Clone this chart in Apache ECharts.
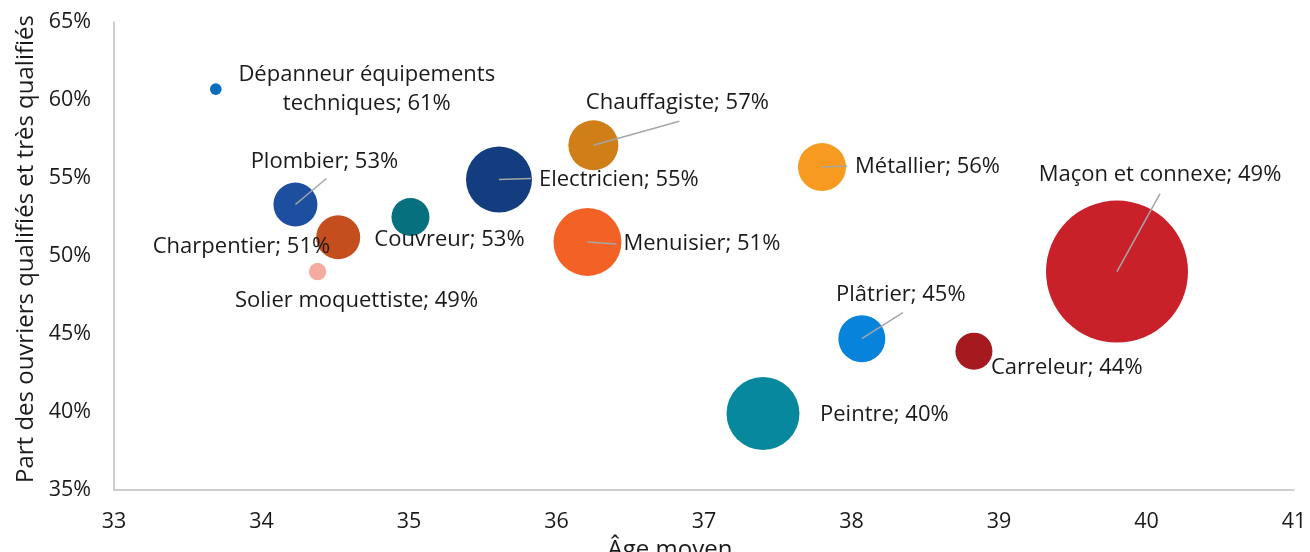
<!DOCTYPE html>
<html>
<head>
<meta charset="utf-8">
<script src="https://cdn.jsdelivr.net/npm/echarts@6/dist/echarts.min.js"></script>
<style>
  html, body { margin: 0; padding: 0; background: #ffffff; }
  #chart { width: 1310px; height: 552px; }
</style>
</head>
<body>
<div id="chart"></div>
<script>
// Métiers du bâtiment : âge moyen, part des ouvriers qualifiés, effectifs (taille des bulles)
const metiers = [
  'Dépanneur équipements\ntechniques', 'Plombier', 'Charpentier', 'Solier moquettiste',
  'Couvreur', 'Electricien', 'Chauffagiste', 'Menuisier', 'Métallier',
  'Plâtrier', 'Carreleur', 'Peintre', 'Maçon et connexe'
];
const ageMoyen = [33.69, 34.23, 34.52, 34.38, 35.01, 35.61, 36.25, 36.21, 37.80, 38.07, 38.83, 37.40, 39.80];
const partQualifies = [60.7, 53.3, 51.2, 49.0, 52.5, 54.9, 57.1, 50.9, 55.7, 44.7, 43.9, 39.9, 49.0];
const effectifs = [1.7, 24.0, 24.0, 3.8, 17.9, 54.0, 31.0, 57.3, 28.6, 27.4, 17.0, 66.0, 250.0];
const couleurs = [
  '#0A6DBE', '#1D4FA0', '#C54E1E', '#F4ACA1', '#07707E', '#143D80', '#CF7E18',
  '#F26227', '#F79A22', '#0783DC', '#A5191F', '#08889C', '#C8212A'
];

// Placement des étiquettes (décalage en pixels depuis le centre de la bulle) et traits de rappel
const etiquettes = [
  { dx: 151, dy: 0, align: 'center' },
  { dx: 29, dy: -43, align: 'center', line: [31, -26] },
  { dx: -8, dy: 9, align: 'right' },
  { dx: 39, dy: 29, align: 'center' },
  { dx: 39, dy: 23, align: 'center' },
  { dx: 40, dy: 0, align: 'left', line: [32, -1] },
  { dx: 84, dy: -43, align: 'center', line: [86, -24] },
  { dx: 36, dy: 2, align: 'left', line: [29, 2] },
  { dx: 33, dy: 0, align: 'left', line: [25, -1] },
  { dx: 39, dy: -44, align: 'center', line: [41, -26] },
  { dx: 17, dy: 17, align: 'left' },
  { dx: 57, dy: 1, align: 'left' },
  { dx: 43, dy: -97, align: 'center', line: [43, -78] }
];

const FONT = '"Open Sans", "Noto Sans", sans-serif';
const TEXT = '#1a1a1a';
const AXIS_GREY = '#BFBFBF';

const points = metiers.map((m, i) => ({
  value: [ageMoyen[i], partQualifies[i], effectifs[i], i],
  itemStyle: { color: couleurs[i] }
}));

const chart = echarts.init(document.getElementById('chart'), null, { renderer: 'canvas' });

chart.setOption({
  animation: false,
  backgroundColor: '#ffffff',
  grid: { left: 114, right: 16, top: 22, bottom: 62, containLabel: false, outerBoundsMode: 'none' },
  xAxis: {
    type: 'value',
    min: 33, max: 41, interval: 1,
    name: 'Âge moyen',
    nameLocation: 'middle',
    nameGap: 37,
    nameTextStyle: { fontFamily: FONT, fontSize: 24, color: TEXT, padding: [0, 68, 0, 0] },
    axisLine: { show: true, lineStyle: { color: AXIS_GREY, width: 1.5 } },
    axisTick: { show: false },
    splitLine: { show: false },
    axisLabel: { margin: 21, fontFamily: FONT, fontSize: 21.5, color: TEXT }
  },
  yAxis: {
    type: 'value',
    min: 35, max: 65, interval: 5,
    name: 'Part des ouvriers qualifiés et très qualifiés',
    nameLocation: 'middle',
    nameGap: 74,
    nameTextStyle: { fontFamily: FONT, fontSize: 24, color: TEXT, padding: [0, 0, 0, 14] },
    axisLine: { show: true, lineStyle: { color: AXIS_GREY, width: 1.5 } },
    axisTick: { show: false },
    splitLine: { show: false },
    axisLabel: { margin: 23, fontFamily: FONT, fontSize: 21.5, color: TEXT, formatter: '{value}%' }
  },
  series: [
    {
      type: 'scatter',
      data: points,
      symbol: 'circle',
      symbolSize: (v) => 2 * 4.49 * Math.sqrt(v[2]),
      itemStyle: { opacity: 1 },
      z: 2
    },
    {
      type: 'custom',
      z: 3,
      silent: true,
      data: points.map(p => p.value),
      renderItem: (params, api) => {
        const i = params.dataIndex;
        const c = api.coord([api.value(0), api.value(1)]);
        const e = etiquettes[i];
        const children = [];
        if (e.line) {
          children.push({
            type: 'line',
            shape: { x1: c[0], y1: c[1], x2: c[0] + e.line[0], y2: c[1] + e.line[1] },
            style: { stroke: '#A6A6A6', lineWidth: 1.5 }
          });
        }
        children.push({
          type: 'text',
          style: {
            text: metiers[i] + '; ' + Math.round(partQualifies[i]) + '%',
            x: c[0] + e.dx,
            y: c[1] + e.dy,
            align: e.align,
            verticalAlign: 'middle',
            fontFamily: FONT,
            fontSize: 22,
            lineHeight: 29,
            fill: TEXT
          }
        });
        return { type: 'group', children };
      }
    }
  ]
});
</script>
</body>
</html>
